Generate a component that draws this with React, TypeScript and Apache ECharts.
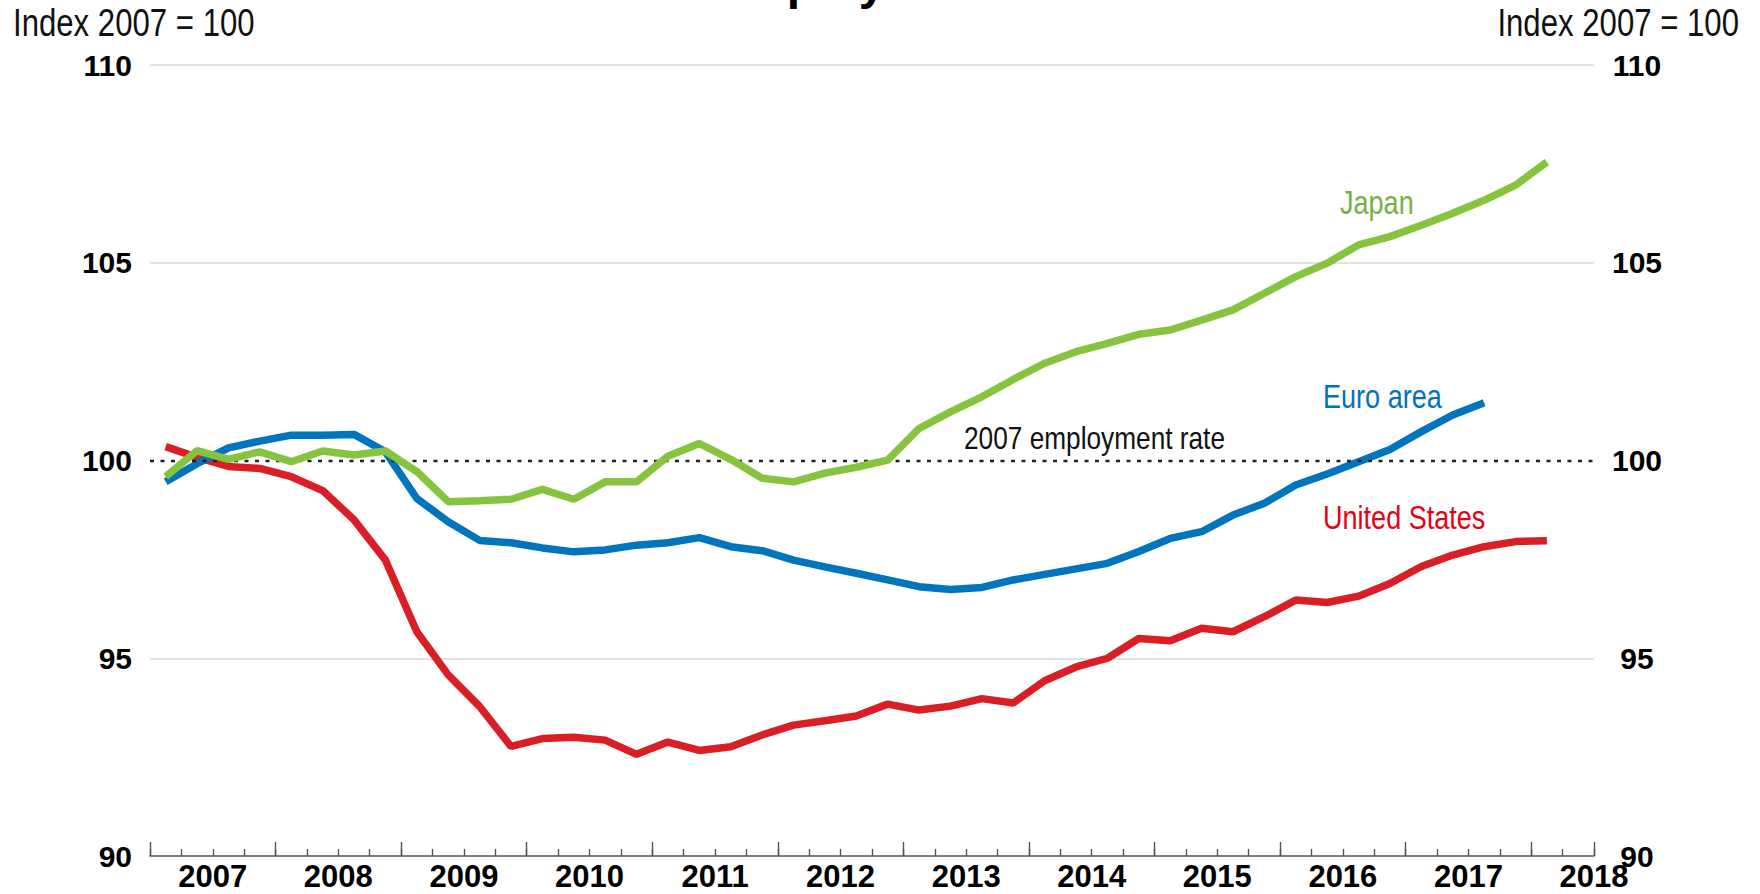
import React, { useEffect, useRef } from 'react';
import * as echarts from 'echarts';

// Quarterly index, 2007 = 100 (first point = 2007 Q1)
const yearLabels = ['2007', '2008', '2009', '2010', '2011', '2012', '2013', '2014', '2015', '2016', '2017', '2018'];
const quartersPerYear = 4;
const axisQuarterCount = 46; // 2007 Q1 .. 2018 Q2

const unitedStates = [
  100.35, 100.08, 99.85, 99.8, 99.59, 99.24, 98.5, 97.48, 95.67, 94.58,
  93.78, 92.77, 92.97, 93.0, 92.93, 92.57, 92.88, 92.67, 92.76, 93.06,
  93.31, 93.42, 93.54, 93.84, 93.69, 93.79, 93.98, 93.87, 94.43, 94.78,
  95.0, 95.5, 95.44, 95.76, 95.67, 96.05, 96.47, 96.41, 96.57, 96.89,
  97.32, 97.61, 97.82, 97.95, 97.97,
];
const euroArea = [
  99.46, 99.92, 100.32, 100.49, 100.64, 100.64, 100.66, 100.22, 99.04, 98.45,
  97.98, 97.92, 97.79, 97.69, 97.74, 97.86, 97.92, 98.05, 97.82, 97.72,
  97.48, 97.31, 97.15, 96.98, 96.81, 96.74, 96.79, 96.98, 97.12, 97.26,
  97.4, 97.7, 98.03, 98.2, 98.62, 98.92, 99.38, 99.66, 99.97, 100.28,
  100.73, 101.15, 101.46,
];
const japan = [
  99.59, 100.25, 100.03, 100.22, 99.97, 100.24, 100.14, 100.24, 99.72, 98.96,
  98.98, 99.02, 99.27, 99.02, 99.46, 99.46, 100.11, 100.43, 100.03, 99.55,
  99.46, 99.68, 99.83, 100.01, 100.81, 101.23, 101.61, 102.05, 102.46, 102.75,
  102.96, 103.19, 103.3, 103.55, 103.81, 104.23, 104.65, 104.99, 105.45, 105.66,
  105.95, 106.25, 106.58, 106.96, 107.55,
];
const referenceLevel = 100;
const yMin = 90;
const yMax = 110;
const yStep = 5;

const SANS = "'Liberation Sans', Arial, Helvetica, sans-serif";
const NARROW_SCALE = 0.82; // emulates a condensed face
const GREEN = '#86c440';
const BLUE = '#0075be';
const RED = '#d91e26';

const toPoints = (vals: number[]) => vals.map((v, i) => [i + 0.5, v]);

export default function App() {
  const ref = useRef<HTMLDivElement>(null);
  useEffect(() => {
    document.body.style.margin = '0';
    document.body.style.overflow = 'hidden';
    const chart = echarts.init(ref.current!, null, { renderer: 'svg' });
    const baseX = {
      type: 'value' as const,
      position: 'bottom' as const,
      min: 0,
      max: axisQuarterCount,
      splitLine: { show: false },
    };
    const narrowText = (text: string, x: number, y: number, size: number, fill: string, align = 'left', extra: any = {}) => ({
      type: 'text',
      x,
      y,
      scaleX: NARROW_SCALE,
      scaleY: 1,
      style: { text, fontFamily: SANS, fontSize: size, fill, verticalAlign: 'middle', align, ...extra },
    });
    chart.setOption({
      animation: false,
      backgroundColor: '#ffffff',
      grid: { left: 150, right: 166, top: 65, bottom: 38, containLabel: false },
      xAxis: [
        {
          ...baseX,
          interval: 1,
          axisLine: { show: true, lineStyle: { color: '#555', width: 1.6 } },
          axisTick: { show: true, inside: true, length: 7, lineStyle: { color: '#555', width: 1.4 } },
          axisLabel: { show: false },
        },
        {
          ...baseX,
          interval: quartersPerYear,
          axisLine: { show: false },
          axisTick: { show: true, inside: true, length: 14, lineStyle: { color: '#555', width: 1.4 } },
          axisLabel: { show: false },
        },
        {
          ...baseX,
          interval: quartersPerYear / 2,
          axisLine: { show: false },
          axisTick: { show: false },
          axisLabel: {
            show: true,
            margin: 5,
            fontFamily: SANS,
            fontWeight: 'bold',
            fontSize: 31,
            color: '#000',
            formatter: (v: number) =>
              Math.round(v) % quartersPerYear === quartersPerYear / 2
                ? yearLabels[(Math.round(v) - quartersPerYear / 2) / quartersPerYear] ?? ''
                : '',
          },
        },
      ],
      yAxis: [
        {
          type: 'value',
          position: 'left',
          min: yMin,
          max: yMax,
          interval: yStep,
          axisLine: { show: false },
          axisTick: { show: false },
          axisLabel: { margin: 18, fontFamily: SANS, fontWeight: 'bold', fontSize: 30, color: '#000' },
          splitLine: {
            show: true,
            lineStyle: { color: ['rgba(0,0,0,0)', '#d9d9d9', 'rgba(0,0,0,0)', '#d9d9d9', '#d9d9d9'], width: 1.5 },
          },
        },
        {
          type: 'value',
          position: 'right',
          min: yMin,
          max: yMax,
          interval: yStep,
          axisLine: { show: false },
          axisTick: { show: false },
          axisLabel: { margin: 43, align: 'center', fontFamily: SANS, fontWeight: 'bold', fontSize: 30, color: '#000' },
          splitLine: { show: false },
        },
      ],
      series: [
        {
          type: 'line',
          name: 'ref',
          data: [],
          z: 1,
          markLine: {
            silent: true,
            symbol: 'none',
            label: { show: false },
            lineStyle: { color: '#222', width: 2.4, type: [4, 6.5] },
            data: [{ yAxis: referenceLevel }],
          },
        },
        {
          type: 'line',
          name: 'United States',
          data: toPoints(unitedStates),
          showSymbol: false,
          symbol: 'none',
          z: 3,
          lineStyle: { color: RED, width: 7.5 },
        },
        {
          type: 'line',
          name: 'Euro area',
          data: toPoints(euroArea),
          showSymbol: false,
          symbol: 'none',
          z: 4,
          lineStyle: { color: BLUE, width: 7.5 },
        },
        {
          type: 'line',
          name: 'Japan',
          data: toPoints(japan),
          showSymbol: false,
          symbol: 'none',
          z: 5,
          lineStyle: { color: GREEN, width: 7.5 },
        },
      ],
      graphic: [
        narrowText('Index 2007 = 100', 13, 23, 38, '#111'),
        narrowText('Index 2007 = 100', 1739, 23, 38, '#111', 'right'),
        {
          type: 'text',
          x: 712,
          y: 6,
          style: { text: 'Employment', fontFamily: SANS, fontWeight: 'bold', fontSize: 48, fill: '#000', verticalAlign: 'bottom', align: 'left' },
        },
        narrowText('Japan', 1340, 203, 33, '#76b043'),
        narrowText('Euro area', 1323, 397, 33, '#0070c0'),
        narrowText('United States', 1323, 518, 33, '#e60012'),
        narrowText('2007 employment rate', 964, 438, 32, '#111'),
      ],
    });
    return () => chart.dispose();
  }, []);
  return <div ref={ref} style={{ width: 1760, height: 894 }} />;
}
